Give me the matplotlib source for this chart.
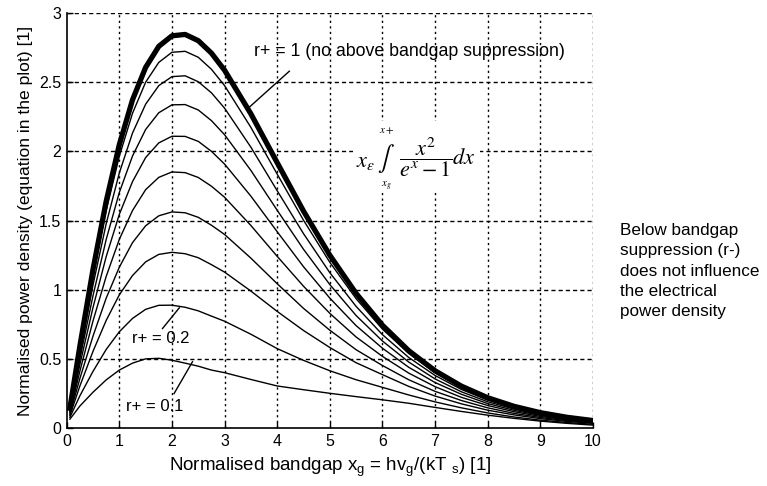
import numpy as np
import matplotlib
matplotlib.use("Agg")
import matplotlib.pyplot as plt
from matplotlib.patches import Rectangle

plt.rcParams['font.family'] = ['Liberation Sans', 'DejaVu Sans']
plt.rcParams['mathtext.fontset'] = 'custom'
plt.rcParams['mathtext.rm'] = 'Liberation Sans'
plt.rcParams['mathtext.it'] = 'Liberation Sans:italic'

# normalised bandgap values where the curves were read
xg = [0.06, 0.25, 0.5, 0.75, 1.0, 1.25, 1.5, 1.75, 2.0, 2.25, 2.5, 2.75, 3.0, 3.5,
      4.0, 4.5, 5.0, 5.5, 6.0, 6.5, 7.0, 7.5, 8.0, 8.5, 9.0, 9.5, 10.0]

# power density for each r+
p_r10 = [0.144, 0.594, 1.149, 1.640, 2.050, 2.373, 2.608, 2.760, 2.836, 2.846, 2.801, 2.711, 2.587, 2.272,
         1.919, 1.569, 1.250, 0.974, 0.744, 0.560, 0.415, 0.304, 0.220, 0.158, 0.112, 0.079, 0.055]
p_r09 = [0.140, 0.572, 1.104, 1.574, 1.966, 2.276, 2.501, 2.644, 2.717, 2.724, 2.681, 2.594, 2.476, 2.174,
         1.836, 1.503, 1.199, 0.936, 0.716, 0.540, 0.401, 0.294, 0.213, 0.153, 0.109, 0.077, 0.053]
p_r08 = [0.134, 0.539, 1.036, 1.478, 1.845, 2.133, 2.342, 2.476, 2.541, 2.547, 2.504, 2.424, 2.313, 2.031,
         1.716, 1.406, 1.124, 0.880, 0.676, 0.511, 0.381, 0.280, 0.203, 0.146, 0.104, 0.073, 0.051]
p_r07 = [0.127, 0.502, 0.959, 1.364, 1.704, 1.967, 2.159, 2.280, 2.337, 2.339, 2.300, 2.223, 2.121, 1.863,
         1.575, 1.293, 1.038, 0.814, 0.630, 0.478, 0.356, 0.263, 0.191, 0.138, 0.098, 0.070, 0.049]
p_r06 = [0.120, 0.460, 0.873, 1.240, 1.546, 1.782, 1.956, 2.062, 2.110, 2.109, 2.073, 2.001, 1.909, 1.677,
         1.420, 1.167, 0.940, 0.741, 0.578, 0.440, 0.330, 0.245, 0.178, 0.129, 0.092, 0.065, 0.046]
p_r05 = [0.111, 0.412, 0.776, 1.097, 1.365, 1.573, 1.724, 1.813, 1.852, 1.847, 1.812, 1.749, 1.669, 1.465,
         1.242, 1.026, 0.830, 0.659, 0.519, 0.398, 0.300, 0.223, 0.164, 0.119, 0.085, 0.060, 0.042]
p_r04 = [0.101, 0.359, 0.666, 0.940, 1.164, 1.341, 1.463, 1.535, 1.563, 1.557, 1.524, 1.467, 1.400, 1.229,
         1.044, 0.866, 0.708, 0.567, 0.453, 0.350, 0.266, 0.200, 0.147, 0.107, 0.077, 0.055, 0.039]
p_r03 = [0.091, 0.305, 0.556, 0.779, 0.964, 1.103, 1.202, 1.256, 1.271, 1.261, 1.232, 1.182, 1.128, 0.991,
         0.844, 0.706, 0.583, 0.473, 0.387, 0.302, 0.232, 0.176, 0.130, 0.096, 0.069, 0.049, 0.035]
p_r02 = [0.078, 0.234, 0.411, 0.569, 0.697, 0.793, 0.859, 0.888, 0.889, 0.874, 0.848, 0.810, 0.773, 0.679,
         0.575, 0.490, 0.415, 0.350, 0.295, 0.240, 0.190, 0.147, 0.110, 0.081, 0.058, 0.041, 0.028]
p_r01 = [0.065, 0.160, 0.260, 0.349, 0.420, 0.470, 0.501, 0.505, 0.491, 0.470, 0.448, 0.420, 0.401, 0.352,
         0.305, 0.278, 0.252, 0.228, 0.205, 0.180, 0.150, 0.121, 0.094, 0.071, 0.051, 0.035, 0.022]

thin_curves = [p_r09, p_r08, p_r07, p_r06, p_r05, p_r04, p_r03, p_r02, p_r01]

xticks = np.arange(0, 11, 1)
yticks = [0, 0.5, 1, 1.5, 2, 2.5, 3]
ytick_labels = ['0', '0.5', '1', '1.5', '2', '2.5', '3']

fig = plt.figure(figsize=(7.67, 4.86), dpi=100)
ax = fig.add_axes([0.087, 0.119, 0.686, 0.854])

for p in thin_curves:
    ax.plot(xg, p, color='black', lw=1.0, zorder=3)
ax.plot(xg, p_r10, color='black', lw=3.8, zorder=3)

ax.set_xlim(0, 10)
ax.set_ylim(0, 3)
ax.set_xticks(xticks)
ax.set_yticks(yticks)
ax.set_yticklabels(ytick_labels)
ax.tick_params(direction='in', length=4, width=1, labelsize=11.5, pad=4)

# matlab style grid: dashed across, dotted up
for yv in yticks[1:]:
    ax.axhline(yv, color='black', lw=1.0, ls=(0, (3, 2.2)), zorder=0)
for xv in xticks[1:]:
    ax.axvline(xv, color='black', lw=1.0, ls=(0, (1.6, 2.4)), zorder=0)

ax.spines['top'].set_visible(False)
ax.spines['right'].set_visible(False)
ax.spines['left'].set_linewidth(1.2)
ax.spines['bottom'].set_linewidth(1.2)

ax.set_xlabel(r'Normalised bandgap x$_\mathrm{g}$ = hv$_\mathrm{g}$/(kT $_\mathrm{s}$) [1]',
              fontsize=13.5, labelpad=5)
ax.set_ylabel('Normalised power density (equation in the plot) [1]', fontsize=12.6, labelpad=4)

# annotations
ax.text(3.56, 2.72, 'r+ = 1 (no above bandgap suppression)', fontsize=12.8, va='center', ha='left')
ax.plot([4.23, 3.47], [2.58, 2.32], color='black', lw=1.0)
ax.text(1.25, 0.645, 'r+ = 0.2', fontsize=12, va='center', ha='left')
ax.plot([1.82, 2.14], [0.72, 0.87], color='black', lw=1.0)
ax.text(1.13, 0.16, 'r+ = 0.1', fontsize=12, va='center', ha='left')
ax.plot([2.04, 2.39], [0.25, 0.48], color='black', lw=1.0)

# equation block (white patch hides the grid behind it)
ax.add_patch(Rectangle((5.45, 1.72), 2.4, 0.5, facecolor='white', edgecolor='none', zorder=1))
ax.text(5.5, 1.93, r'$x_{\varepsilon}$', fontsize=16, va='center', ha='left',
        math_fontfamily='stix', zorder=2)
ax.text(6.06, 1.95, r'$\int$', fontsize=18, va='center', ha='center',
        math_fontfamily='stix', zorder=2)
ax.text(6.08, 2.15, r'$x+$', fontsize=8, va='center', ha='center',
        math_fontfamily='stix', zorder=2)
ax.text(6.08, 1.75, r'$x_{g}$', fontsize=8, va='center', ha='center',
        math_fontfamily='stix', zorder=2)
ax.text(6.82, 1.95, r'$\dfrac{x^{2}}{e^{x}-1}$', fontsize=16, va='center', ha='center',
        math_fontfamily='stix', zorder=2)
ax.text(7.33, 1.95, r'$dx$', fontsize=16, va='center', ha='left',
        math_fontfamily='stix', zorder=2)

fig.text(0.808, 0.442, 'Below bandgap\nsuppression (r-)\ndoes not influence\nthe electrical\npower density',
         fontsize=12.3, va='center', ha='left', linespacing=1.45)

fig.savefig('out.png', dpi=100)
